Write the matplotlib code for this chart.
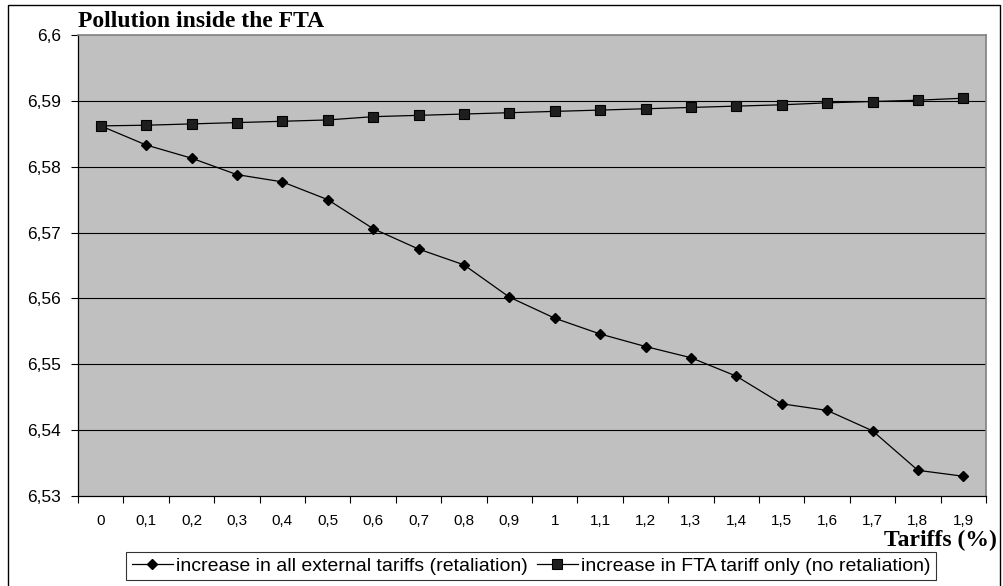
import numpy as np
import matplotlib
matplotlib.use("Agg")
import matplotlib.pyplot as plt
from matplotlib.patches import Rectangle

# data
tariffs = ['0', '0,1', '0,2', '0,3', '0,4', '0,5', '0,6', '0,7', '0,8', '0,9',
           '1', '1,1', '1,2', '1,3', '1,4', '1,5', '1,6', '1,7', '1,8', '1,9']
retaliation = [6.5862, 6.5833, 6.5813, 6.5788, 6.5777, 6.5750, 6.5706, 6.5675,
               6.5651, 6.5602, 6.5570, 6.5546, 6.5527, 6.5510, 6.5482, 6.5440,
               6.5430, 6.5399, 6.5339, 6.5330]
no_retaliation = [6.5862, 6.5863, 6.5865, 6.5867, 6.5869, 6.5871, 6.5876, 6.5878,
                  6.5880, 6.5882, 6.5884, 6.5886, 6.5888, 6.5890, 6.5892, 6.5894,
                  6.5897, 6.5899, 6.5901, 6.5904]
y_ticks = [6.53, 6.54, 6.55, 6.56, 6.57, 6.58, 6.59, 6.60]
y_labels = ['6,53', '6,54', '6,55', '6,56', '6,57', '6,58', '6,59', '6,6']

W, H = 1004, 586
fig = plt.figure(figsize=(W / 100, H / 100), dpi=100)
sans = 'Liberation Sans'
serif = 'Liberation Serif'

ax = fig.add_axes([78 / W, 1 - 496 / H, 908 / W, 461 / H])
ax.set_facecolor('#c0c0c0')

x = np.arange(len(tariffs))
ax.plot(x, retaliation, color='black', lw=0.9, marker='D', markersize=5.5,
        markerfacecolor='black', markeredgecolor='black',
        label='increase in all external tariffs (retaliation)', zorder=3)
ax.plot(x, no_retaliation, color='black', lw=0.9, marker='s', markersize=7,
        markerfacecolor='#1e1e1e', markeredgecolor='black', markeredgewidth=0.8,
        label='increase in FTA tariff only (no retaliation)', zorder=3)

ax.set_xlim(-0.5, len(tariffs) - 0.5)
ax.set_ylim(6.53, 6.60)

# gridlines (Excel style, black)
for yv in y_ticks[1:-1]:
    ax.axhline(yv, color='black', lw=0.8, zorder=1)

ax.set_yticks(y_ticks)
ax.set_yticklabels(y_labels, fontsize=12.5, family=sans)
ax.tick_params(axis='y', direction='out', length=5, width=0.8, pad=7)

ax.set_xticks(np.arange(-0.5, len(tariffs)), labels=[])
ax.tick_params(axis='x', which='major', direction='out', length=5, width=0.8)
ax.set_xticks(x, minor=True)
ax.set_xticklabels(tariffs, minor=True, fontsize=11, family=sans)
ax.tick_params(axis='x', which='minor', length=0, pad=13)

for side in ['left', 'bottom']:
    ax.spines[side].set_color('black')
    ax.spines[side].set_linewidth(0.9)
for side in ['top', 'right']:
    ax.spines[side].set_color('#808080')
    ax.spines[side].set_linewidth(1.2)

fig.text(78 / W, 1 - 27 / H, 'Pollution inside the FTA', family=serif,
         fontweight='bold', fontsize=17, ha='left', va='baseline')
fig.text(997 / W, 1 - 546 / H, 'Tariffs (%)', family=serif,
         fontweight='bold', fontsize=17, ha='right', va='baseline')

leg = ax.legend(loc='center', bbox_to_anchor=(531 / W, 1 - 566 / H),
                bbox_transform=fig.transFigure, ncol=2, frameon=True,
                fancybox=False, prop={'family': sans, 'size': 14},
                handlelength=2.1, handletextpad=0.15, columnspacing=0.5,
                borderpad=0.28, borderaxespad=0)
leg.get_frame().set_edgecolor('black')
leg.get_frame().set_linewidth(0.8)

# outer chart frame; its bottom edge falls just below the image
fig.patches.append(Rectangle((8 / W, -5 / H), 992 / W, 586 / H,
                             transform=fig.transFigure, fill=False,
                             edgecolor='black', lw=1))

fig.savefig('out.png', dpi=100)
